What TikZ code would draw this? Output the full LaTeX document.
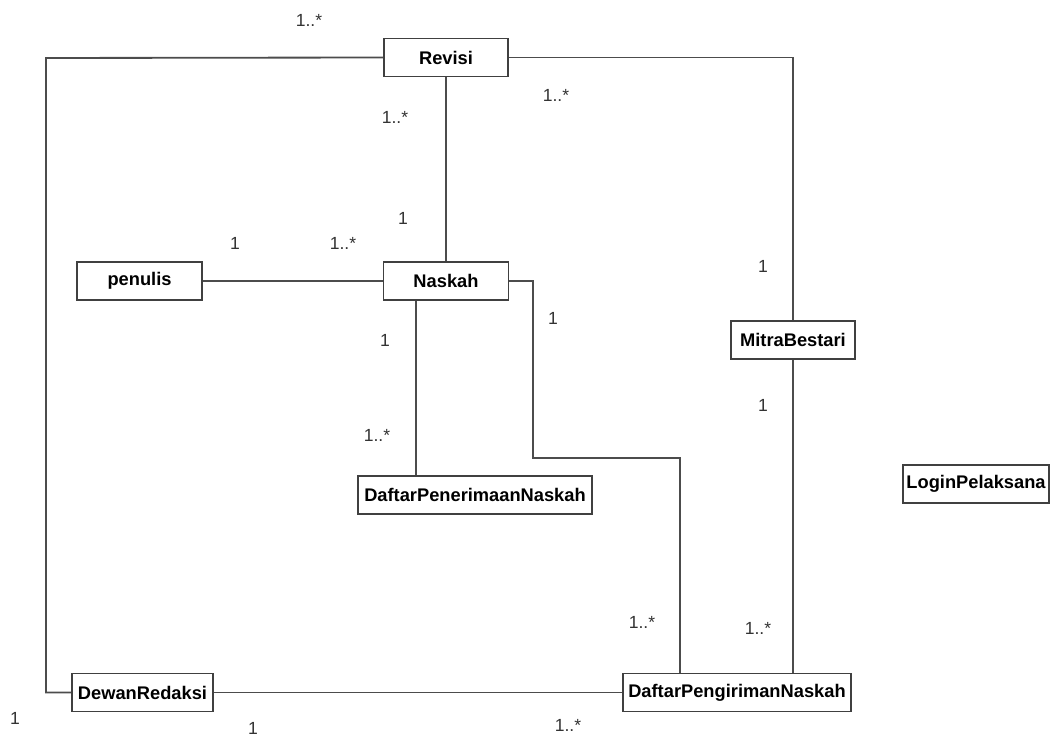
\documentclass[tikz,border=0pt]{standalone}
\usepackage{fontspec}
\setmainfont{Liberation Sans}
\usetikzlibrary{positioning,calc}

\begin{document}
\begin{tikzpicture}[
    x=0.025cm, y=-0.025cm,
    kelas/.style={rectangle, draw=black!75, line width=1.3pt, fill=white, minimum height=0.95cm, inner sep=2pt, align=center, font=\fontsize{13}{15}\selectfont\bfseries},
    garis/.style={draw=black!70, line width=1.3pt},
    mult/.style={font=\fontsize{12.5}{14}\selectfont, text=black!80, inner sep=1pt},
]
    \useasboundingbox (0,0) rectangle (1054,740);

    \node[kelas, minimum width=3.1cm] (revisi) at (446,57.5) {Revisi};
    \node[kelas, minimum width=3.125cm] (penulis) at (139.5,281) {penulis};
    \node[kelas, minimum width=3.125cm] (naskah) at (446,281) {Naskah};
    \node[kelas, minimum width=3.1cm] (mitra) at (793,340) {MitraBestari};
    \node[kelas, minimum width=5.85cm] (penerimaan) at (475,495) {DaftarPenerimaanNaskah};
    \node[kelas, minimum width=3.65cm] (login) at (976,484) {LoginPelaksana};
    \node[kelas, minimum width=3.52cm] (dewan) at (142.5,692.5) {DewanRedaksi};
    \node[kelas, minimum width=5.7cm] (pengiriman) at (737,692.5) {DaftarPengirimanNaskah};

    \coordinate (kiri) at (46,58);
    \coordinate (b1) at (533,458);
    \coordinate (b2) at (680,458);
    \coordinate (b3) at (416,0);

    \draw[garis] (revisi.west) -- (kiri) |- (dewan.west);
    \draw[garis] (revisi.east) -| (mitra.north);
    \draw[garis] (revisi.south) -- (naskah.north);
    \draw[garis] (penulis.east) -- (naskah.west);
    \draw[garis] (naskah.east) -| (b1) -- (b2) -- (b2 |- pengiriman.north);
    \draw[garis] (naskah.south -| b3) -- (penerimaan.north -| b3);
    \draw[garis] (mitra.south) -- (mitra.south |- pengiriman.north);
    \draw[garis] (dewan.east) -- (pengiriman.west);

    % multiplicities
    \node[mult] (m1) at (309,20) {1..*};
    \node[mult] (m2) at (395,117) {1..*};
    \node[mult] (m3) at (556,95) {1..*};
    \node[mult] (m4) at (403,218) {1};
    \node[mult] (m5) at (235,243) {1};
    \node[mult] (m6) at (343,243) {1..*};
    \node[mult] (m7) at (763,266) {1};
    \node[mult] (m8) at (553,318) {1};
    \node[mult] (m9) at (385,340) {1};
    \node[mult] (m10) at (763,405) {1};
    \node[mult] (m11) at (377,435) {1..*};
    \node[mult] (m12) at (642,622) {1..*};
    \node[mult] (m13) at (758,628) {1..*};
    \node[mult] (m14) at (15,718) {1};
    \node[mult] (m15) at (253,728) {1};
    \node[mult] (m16) at (568,725) {1..*};
\end{tikzpicture}
\end{document}
